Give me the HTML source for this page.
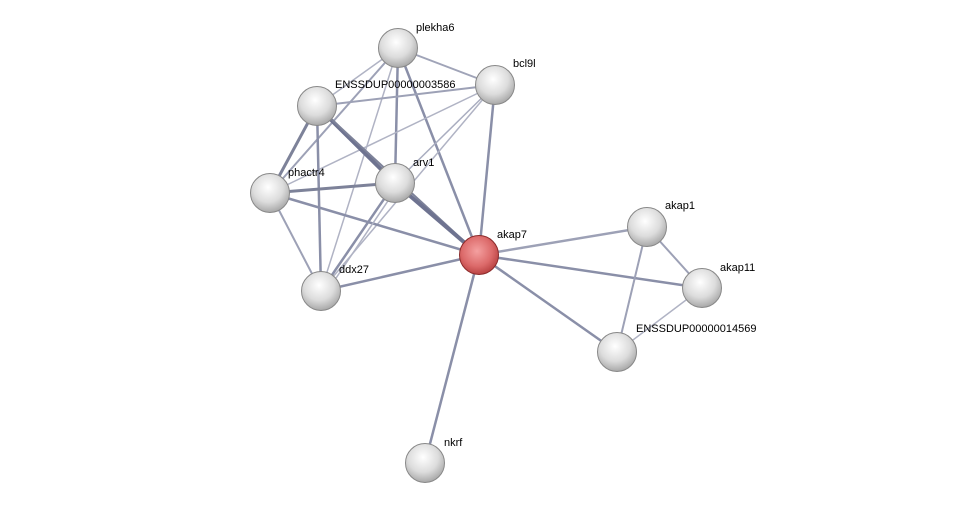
<!DOCTYPE html>
<html><head><meta charset="utf-8"><style>
html,body{margin:0;padding:0;background:#fff;width:976px;height:509px;overflow:hidden}
text{font-family:"Liberation Sans",sans-serif;font-size:11px;fill:#000}
</style></head><body>
<svg width="976" height="509" viewBox="0 0 976 509" xmlns="http://www.w3.org/2000/svg">
<defs>
<radialGradient id="g" cx="0.45" cy="0.35" r="0.65">
<stop offset="0" stop-color="#ffffff"/><stop offset="0.6" stop-color="#dcdcdc"/><stop offset="1" stop-color="#a8a8a8"/>
</radialGradient>
<radialGradient id="r" cx="0.45" cy="0.4" r="0.65">
<stop offset="0" stop-color="#f4a0a0"/><stop offset="0.6" stop-color="#dc6a6a"/><stop offset="1" stop-color="#b23a3a"/>
</radialGradient>
<linearGradient id="hl" x1="0" y1="0" x2="0" y2="1">
<stop offset="0" stop-color="#fff" stop-opacity="0.9"/><stop offset="1" stop-color="#fff" stop-opacity="0"/>
</linearGradient>
</defs>
<g stroke="#8a8fa8" fill="none">
<line x1="398" y1="48" x2="495" y2="85" stroke-width="2" stroke="#a0a4b8"/>
<line x1="398" y1="48" x2="317" y2="106" stroke-width="1.5" stroke="#b0b3c4"/>
<line x1="398" y1="48" x2="270" y2="193" stroke-width="2" stroke="#9da1b6"/>
<line x1="398" y1="48" x2="321" y2="291" stroke-width="1.5" stroke="#b0b3c4"/>
<line x1="398" y1="48" x2="395" y2="183" stroke-width="2.5"/>
<line x1="398" y1="48" x2="479" y2="255" stroke-width="2.5"/>
<line x1="495" y1="85" x2="317" y2="106" stroke-width="2" stroke="#9da1b6"/>
<line x1="495" y1="85" x2="270" y2="193" stroke-width="1.5" stroke="#b0b3c4"/>
<line x1="495" y1="85" x2="395" y2="183" stroke-width="1.5" stroke="#a9adc0"/>
<line x1="495" y1="85" x2="321" y2="291" stroke-width="1.5" stroke="#b0b3c4"/>
<line x1="495" y1="85" x2="479" y2="255" stroke-width="2.5"/>
<line x1="317" y1="106" x2="270" y2="193" stroke-width="3" stroke="#7d8299"/>
<line x1="317" y1="106" x2="321" y2="291" stroke-width="2.5"/>
<line x1="317" y1="106" x2="395" y2="183" stroke-width="4" stroke="#6e7390"/>
<line x1="317" y1="106" x2="479" y2="255" stroke-width="2" stroke="#7d8299"/>
<line x1="270" y1="193" x2="395" y2="183" stroke-width="3" stroke="#7d8299"/>
<line x1="270" y1="193" x2="479" y2="255" stroke-width="2.5"/>
<line x1="270" y1="193" x2="321" y2="291" stroke-width="2" stroke="#9da1b6"/>
<line x1="395" y1="183" x2="321" y2="291" stroke-width="2.5"/>
<line x1="398" y1="186" x2="326" y2="293" stroke-width="1.5" stroke="#b0b3c4"/>
<line x1="395" y1="183" x2="479" y2="255" stroke-width="4" stroke="#6e7390"/>
<line x1="321" y1="291" x2="479" y2="255" stroke-width="2.5"/>
<line x1="479" y1="255" x2="647" y2="227" stroke-width="2.5" stroke="#9da1b6"/>
<line x1="479" y1="255" x2="702" y2="288" stroke-width="2.5"/>
<line x1="479" y1="255" x2="617" y2="352" stroke-width="2.5"/>
<line x1="479" y1="255" x2="425" y2="463" stroke-width="2.5"/>
<line x1="647" y1="227" x2="702" y2="288" stroke-width="2" stroke="#9da1b6"/>
<line x1="647" y1="227" x2="617" y2="352" stroke-width="2" stroke="#9da1b6"/>
<line x1="702" y1="288" x2="617" y2="352" stroke-width="1.5" stroke="#b0b3c4"/>
</g>
<g stroke="#888" stroke-width="1">
<circle cx="398" cy="48" r="19.5" fill="url(#g)"/>
<circle cx="495" cy="85" r="19.5" fill="url(#g)"/>
<circle cx="317" cy="106" r="19.5" fill="url(#g)"/>
<circle cx="270" cy="193" r="19.5" fill="url(#g)"/>
<circle cx="395" cy="183" r="19.5" fill="url(#g)"/>
<circle cx="321" cy="291" r="19.5" fill="url(#g)"/>
<circle cx="647" cy="227" r="19.5" fill="url(#g)"/>
<circle cx="702" cy="288" r="19.5" fill="url(#g)"/>
<circle cx="617" cy="352" r="19.5" fill="url(#g)"/>
<circle cx="425" cy="463" r="19.5" fill="url(#g)"/>
<circle cx="479" cy="255" r="19.5" fill="url(#r)" stroke="#8b2a2a"/>
</g>
<text x="416" y="31">plekha6</text>
<text x="513" y="67">bcl9l</text>
<text x="335" y="88">ENSSDUP00000003586</text>
<text x="288" y="176">phactr4</text>
<text x="413" y="166">arv1</text>
<text x="497" y="238">akap7</text>
<text x="339" y="273">ddx27</text>
<text x="665" y="209">akap1</text>
<text x="720" y="271">akap11</text>
<text x="636" y="332">ENSSDUP00000014569</text>
<text x="444" y="446">nkrf</text>
</svg>
</body></html>
